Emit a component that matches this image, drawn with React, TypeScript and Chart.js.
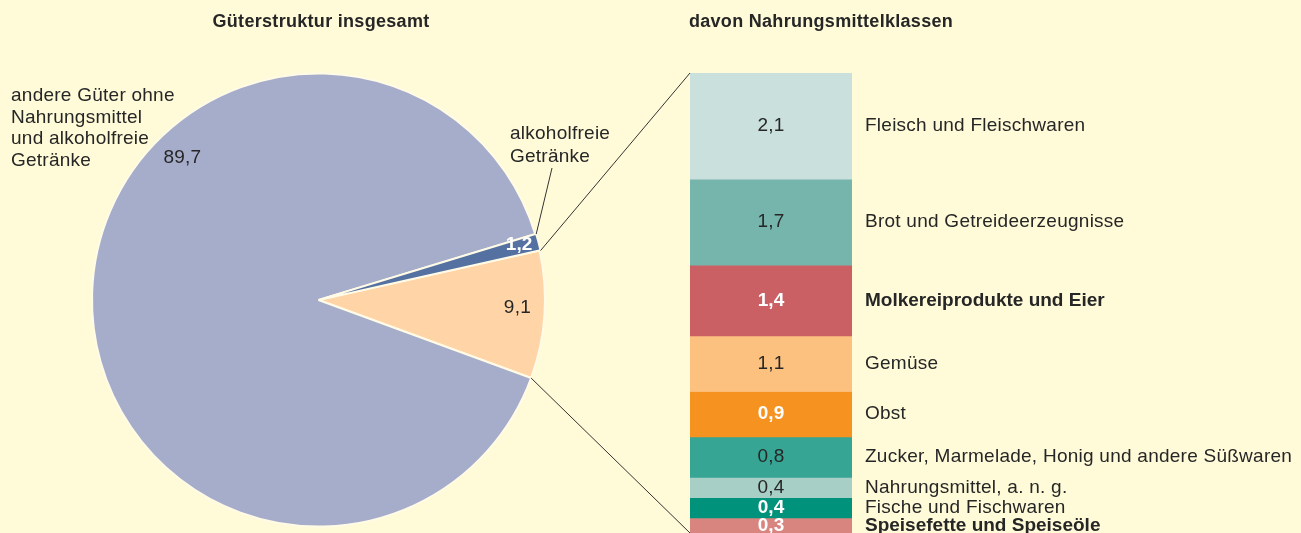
import React, { useEffect, useRef } from "react";
import { Chart, registerables } from "chart.js";

Chart.register(...registerables);

// ---------- data ----------
const PIE_LABELS = [
  "Nahrungsmittel",
  "andere Güter ohne Nahrungsmittel und alkoholfreie Getränke",
  "alkoholfreie Getränke",
];
const PIE_VALUES = [9.1, 89.7, 1.2];
const PIE_COLORS = ["#FFD5A8", "#A6ADCA", "#5571A1"];

const FOOD_LABELS = [
  "Fleisch und Fleischwaren",
  "Brot und Getreideerzeugnisse",
  "Molkereiprodukte und Eier",
  "Gemüse",
  "Obst",
  "Zucker, Marmelade, Honig und andere Süßwaren",
  "Nahrungsmittel, a. n. g.",
  "Fische und Fischwaren",
  "Speisefette und Speiseöle",
];
const FOOD_VALUES = [2.1, 1.7, 1.4, 1.1, 0.9, 0.8, 0.4, 0.4, 0.3];
const FOOD_COLORS = [
  "#C9E0DC",
  "#76B5AB",
  "#CA6064",
  "#FDC17F",
  "#F6921F",
  "#36A594",
  "#A7CFC6",
  "#00927A",
  "#D88580",
];
const FOOD_LABEL_BOLD = [false, false, true, false, false, false, false, false, true];
const FOOD_VALUE_WHITE = [false, false, true, false, true, false, false, true, true];

const TITLE_LEFT = "Güterstruktur insgesamt";
const TITLE_RIGHT = "davon Nahrungsmittelklassen";
const LEFT_LABEL_LINES = ["andere Güter ohne", "Nahrungsmittel", "und alkoholfreie", "Getränke"];
const DRINK_LABEL_LINES = ["alkoholfreie", "Getränke"];

// ---------- style / layout ----------
const W = 1301;
const H = 533;
const BG = "#FFFBD9";
const TEXT = "#262626";
const FONT = "'Liberation Sans', Arial, sans-serif";
const PIE_CX = 318.5;
const PIE_CY = 300;
const PIE_R = 226.5;
const PIE_START_DEG = -12.6;
// label anchor (angle in degrees, fraction of radius) for each pie value
const PIE_VALUE_ANCHORS = [
  { deg: 2.3, r: 0.879, white: false },
  { deg: 226.2, r: 0.868, white: false },
  { deg: 344.7, r: 0.918, white: true },
];
const BAR_LEFT = 690;
const BAR_RIGHT = 852;
const BAR_TOP = 73;

const fmt = (v: number) => v.toFixed(1).replace(".", ",");

function setFont(ctx: CanvasRenderingContext2D, bold: boolean, size = 19, spacing = 0.25) {
  ctx.font = `${bold ? "bold " : ""}${size}px ${FONT}`;
  try {
    (ctx as any).letterSpacing = `${spacing}px`;
  } catch (e) {}
}

export default function App() {
  const pieRef = useRef<HTMLCanvasElement>(null);
  const barRef = useRef<HTMLCanvasElement>(null);

  useEffect(() => {
    if (!pieRef.current || !barRef.current) return;

    const pieTextPlugin = {
      id: "pieText",
      afterDatasetsDraw(chart: any) {
        const ctx: CanvasRenderingContext2D = chart.ctx;
        const meta = chart.getDatasetMeta(0);
        ctx.save();
        // values on slices
        meta.data.forEach((arc: any, i: number) => {
          const a = PIE_VALUE_ANCHORS[i];
          const ang = (a.deg * Math.PI) / 180;
          const x = arc.x + Math.cos(ang) * arc.outerRadius * a.r;
          const y = arc.y + Math.sin(ang) * arc.outerRadius * a.r;
          setFont(ctx, a.white, 19, a.white ? 0 : 0.25);
          ctx.fillStyle = a.white ? "#FFFFFF" : TEXT;
          ctx.textAlign = "center";
          ctx.textBaseline = "middle";
          ctx.fillText(fmt(PIE_VALUES[i]), x, y);
        });
        // title
        setFont(ctx, true, 18, 0.3);
        ctx.fillStyle = TEXT;
        ctx.textAlign = "center";
        ctx.textBaseline = "middle";
        ctx.fillText(TITLE_LEFT, 321, 22.5);
        // left label
        setFont(ctx, false);
        ctx.textAlign = "left";
        LEFT_LABEL_LINES.forEach((t, i) => ctx.fillText(t, 11, 95.5 + i * 21.8));
        // drinks label with leader line
        DRINK_LABEL_LINES.forEach((t, i) => ctx.fillText(t, 510, 133.5 + i * 23));
        const blue = meta.data[2];
        const ex = blue.x + Math.cos(blue.startAngle) * blue.outerRadius;
        const ey = blue.y + Math.sin(blue.startAngle) * blue.outerRadius;
        ctx.strokeStyle = "#333333";
        ctx.lineWidth = 1;
        ctx.beginPath();
        ctx.moveTo(552, 168);
        ctx.lineTo(ex + 1, ey);
        ctx.stroke();
        ctx.restore();
      },
    };

    const pie = new Chart(pieRef.current, {
      type: "pie",
      data: {
        labels: PIE_LABELS,
        datasets: [
          {
            data: PIE_VALUES,
            backgroundColor: PIE_COLORS,
            borderColor: "#FFFBE6",
            borderWidth: 2,
            offset: [0, 0, 2],
          },
        ],
      },
      options: {
        responsive: false,
        maintainAspectRatio: false,
        animation: false,
        rotation: PIE_START_DEG + 90,
        radius: PIE_R,
        layout: {
          padding: {
            left: PIE_CX - PIE_R,
            right: W - (PIE_CX + PIE_R),
            top: PIE_CY - PIE_R,
            bottom: H - (PIE_CY + PIE_R),
          },
        },
        plugins: {
          legend: { display: false },
          tooltip: { enabled: false },
          title: { display: false },
        },
      } as any,
      plugins: [pieTextPlugin],
    });

    const barTextPlugin = {
      id: "barText",
      afterDraw(chart: any) {
        const ctx: CanvasRenderingContext2D = chart.ctx;
        ctx.save();
        const area = chart.chartArea;
        FOOD_VALUES.forEach((v, i) => {
          const el: any = chart.getDatasetMeta(i).data[0];
          const cy = (el.y + el.base) / 2;
          const white = FOOD_VALUE_WHITE[i];
          setFont(ctx, white, 19, white ? 0 : 0.25);
          ctx.fillStyle = white ? "#FFFFFF" : TEXT;
          ctx.textAlign = "center";
          ctx.textBaseline = "middle";
          ctx.fillText(fmt(v), el.x, cy);
          const bold = FOOD_LABEL_BOLD[i];
          setFont(ctx, bold, 19, bold ? 0 : 0.25);
          ctx.fillStyle = TEXT;
          ctx.textAlign = "left";
          ctx.fillText(FOOD_LABELS[i], area.right + 13, cy);
        });
        // title
        setFont(ctx, true, 18, 0.3);
        ctx.fillStyle = TEXT;
        ctx.textAlign = "center";
        ctx.fillText(TITLE_RIGHT, 821, 22.5);
        // connector lines from the food slice to the bar
        const pm = pie.getDatasetMeta(0);
        const food: any = pm.data[0];
        const first: any = chart.getDatasetMeta(0).data[0];
        const last: any = chart.getDatasetMeta(FOOD_VALUES.length - 1).data[0];
        const topY = Math.min(first.y, first.base);
        const botY = Math.max(last.y, last.base);
        const leftX = first.x - first.width / 2;
        const sx = food.x + Math.cos(food.startAngle) * food.outerRadius;
        const sy = food.y + Math.sin(food.startAngle) * food.outerRadius;
        const tx = food.x + Math.cos(food.endAngle) * food.outerRadius;
        const ty = food.y + Math.sin(food.endAngle) * food.outerRadius;
        ctx.strokeStyle = "#333333";
        ctx.lineWidth = 1;
        ctx.beginPath();
        ctx.moveTo(sx + 1, sy);
        ctx.lineTo(leftX, topY);
        ctx.moveTo(tx, ty);
        ctx.lineTo(leftX, botY);
        ctx.stroke();
        ctx.restore();
      },
    };

    const total = FOOD_VALUES.reduce((a, b) => a + b, 0);
    const bar = new Chart(barRef.current, {
      type: "bar",
      data: {
        labels: [""],
        datasets: FOOD_VALUES.map((v, i) => ({
          label: FOOD_LABELS[i],
          data: [v],
          backgroundColor: FOOD_COLORS[i],
          borderWidth: 0,
          categoryPercentage: 1,
          barPercentage: 1,
          stack: "food",
        })),
      },
      options: {
        responsive: false,
        maintainAspectRatio: false,
        animation: false,
        layout: {
          padding: { left: BAR_LEFT, right: W - BAR_RIGHT, top: BAR_TOP, bottom: 0 },
        },
        scales: {
          x: { display: false, stacked: true },
          y: { display: false, stacked: true, reverse: true, min: 0, max: total },
        },
        plugins: {
          legend: { display: false },
          tooltip: { enabled: false },
          title: { display: false },
        },
      } as any,
      plugins: [barTextPlugin],
    });

    return () => {
      bar.destroy();
      pie.destroy();
    };
  }, []);

  return (
    <div
      style={{
        position: "absolute",
        left: 0,
        top: 0,
        width: W,
        height: H,
        background: BG,
        overflow: "hidden",
      }}
    >
      <canvas
        ref={pieRef}
        width={W}
        height={H}
        style={{ position: "absolute", left: 0, top: 0, width: W, height: H }}
      />
      <canvas
        ref={barRef}
        width={W}
        height={H}
        style={{ position: "absolute", left: 0, top: 0, width: W, height: H }}
      />
    </div>
  );
}
